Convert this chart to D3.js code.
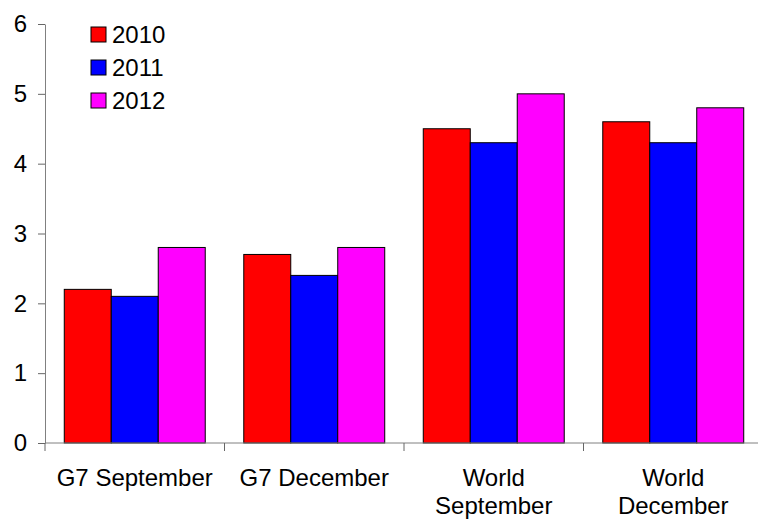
<!DOCTYPE html>
<html>
<head>
<meta charset="utf-8">
<script src="https://cdn.jsdelivr.net/npm/d3@7"></script>
<style>
  html, body { margin: 0; padding: 0; background: #fff; }
  svg { display: block; }
  text { font-family: "Liberation Sans", Arial, sans-serif; fill: #000; }
</style>
</head>
<body>
<svg id="chart" width="758" height="519"></svg>
<script>
// Categories (each may break onto two lines)
const categories = ["G7 September", "G7 December", "World September", "World December"];
const categoryLines = [["G7 September"], ["G7 December"], ["World", "September"], ["World", "December"]];
const years = ["2010", "2011", "2012"];
const values2010 = [2.2, 2.7, 4.5, 4.6];
const values2011 = [2.1, 2.4, 4.3, 4.3];
const values2012 = [2.8, 2.8, 5.0, 4.8];
const yTicks = [0, 1, 2, 3, 4, 5, 6];
const colors = ["#ff0000", "#0000ff", "#ff00ff"];

const series = [values2010, values2011, values2012];

const svg = d3.select("#chart");
const plotLeft = 45, plotTop = 24, plotBottom = 443, plotRight = 763;

const y = d3.scaleLinear().domain([0, 6]).range([plotBottom, plotTop]);
const x = d3.scaleBand().domain(categories).range([plotLeft, plotRight]).padding(0);
const xi = d3.scaleBand().domain(years).range([0, x.bandwidth()])
  .paddingInner(0).paddingOuter(0.41);

const color = d3.scaleOrdinal().domain(years).range(colors);

// Bars
const groups = svg.append("g").selectAll("g")
  .data(categories)
  .join("g")
  .attr("transform", d => `translate(${x(d)},0)`);

groups.selectAll("rect")
  .data((c, i) => years.map((yr, k) => ({ yr, v: series[k][i] })))
  .join("rect")
  .attr("x", d => xi(d.yr))
  .attr("y", d => y(d.v))
  .attr("width", xi.bandwidth())
  .attr("height", d => y(0) - y(d.v))
  .attr("fill", d => color(d.yr))
  .attr("stroke", "#000")
  .attr("stroke-width", 1);

// Y axis
const yAxis = svg.append("g")
  .attr("transform", `translate(${plotLeft},0)`)
  .call(d3.axisLeft(y).tickValues(yTicks).tickFormat(d3.format("d"))
    .tickSize(7).tickSizeOuter(0).tickPadding(11));
yAxis.select(".domain").attr("stroke", "#808080");
yAxis.selectAll(".tick line").attr("stroke", "#666");
yAxis.selectAll(".tick text").style("font-size", "24px")
  .style("font-family", "'Liberation Sans', Arial, sans-serif").attr("fill", "#000");

// X axis line and boundary ticks
const xAxis = svg.append("g");
xAxis.append("line")
  .attr("x1", plotLeft).attr("x2", plotRight)
  .attr("y1", y(0)).attr("y2", y(0))
  .attr("stroke", "#808080");
const bounds = categories.map(c => x(c)).concat([x(categories[categories.length - 1]) + x.bandwidth()]);
xAxis.selectAll("line.tk")
  .data(bounds)
  .join("line")
  .attr("class", "tk")
  .attr("x1", d => d).attr("x2", d => d)
  .attr("y1", y(0)).attr("y2", y(0) + 8)
  .attr("stroke", "#666");

// Category labels
const labels = xAxis.selectAll("text.cat")
  .data(categories)
  .join("text")
  .attr("class", "cat")
  .attr("text-anchor", "middle")
  .style("font-size", "24px")
  .attr("transform", d => `translate(${x(d) + x.bandwidth() / 2},${y(0) + 43})`);
labels.selectAll("tspan")
  .data((d, i) => categoryLines[i])
  .join("tspan")
  .attr("x", 0)
  .attr("dy", (d, i) => i === 0 ? 0 : 28)
  .text(d => d);

// Legend
const legend = svg.append("g").attr("transform", "translate(91,27)");
const items = legend.selectAll("g")
  .data(years)
  .join("g")
  .attr("transform", (d, i) => `translate(0,${i * 33})`);
items.append("rect")
  .attr("width", 15).attr("height", 15)
  .attr("fill", d => color(d))
  .attr("stroke", "#000");
items.append("text")
  .attr("x", 21).attr("y", 7.5)
  .attr("dy", "0.35em")
  .style("font-size", "24px")
  .text(d => d);
</script>
</body>
</html>
